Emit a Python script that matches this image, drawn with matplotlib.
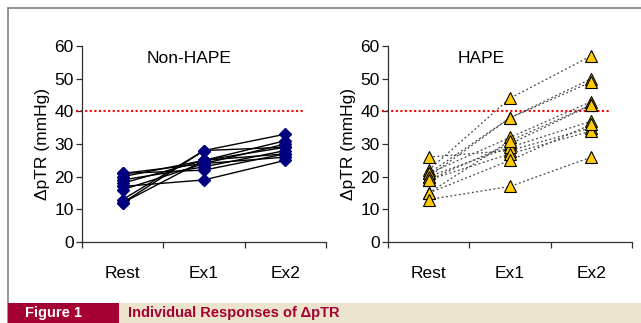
import numpy as np
import matplotlib
matplotlib.use("Agg")
import matplotlib.pyplot as plt
from matplotlib.patches import Rectangle

plt.rcParams["font.family"] = ["Liberation Sans", "DejaVu Sans"]

stages = ["Rest", "Ex1", "Ex2"]

# non-HAPE subjects: rest, ex1, ex2
non_rest = [21, 21, 20, 19, 18, 17, 16, 13, 12, 12]
non_ex1 = [24, 22, 25, 23, 25, 19, 24, 28, 28, 25]
non_ex2 = [30, 27, 29, 28, 31, 25, 26, 33, 29, 27]

# HAPE subjects
hape_rest = [26, 22, 21, 20, 21, 19, 20, 19, 15, 15, 13]
hape_ex1 = [28, 44, 38, 38, 32, 30, 29, 27, 31, 25, 17]
hape_ex2 = [35, 57, 50, 49, 43, 42, 37, 34, 42, 36, 26]

threshold = 40

W, H = 641, 323
FS = 12.5
fig = plt.figure(figsize=(W / 100, H / 100), dpi=100)


def px_box(x0, y0, x1, y1):
    return [x0 / W, 1 - y1 / H, (x1 - x0) / W, (y1 - y0) / H]


def style_axes(ax, title, tx):
    ax.set_xlim(0.5, 3.5)
    ax.set_ylim(0, 60)
    ax.set_yticks(range(0, 61, 10))
    ax.set_xticks([0.5, 1.5, 2.5, 3.5])
    ax.set_xticklabels([])
    for s in ["top", "right"]:
        ax.spines[s].set_visible(False)
    for s in ["left", "bottom"]:
        ax.spines[s].set_color("#303030")
        ax.spines[s].set_linewidth(0.9)
    ax.tick_params(direction="out", length=4, width=0.9, color="#303030", labelsize=FS, pad=2)
    ax.set_ylabel("\u0394pTR (mmHg)", fontsize=FS, labelpad=3)
    ax.text(tx, 0.935, title, transform=ax.transAxes, ha="center", va="center", fontsize=FS)
    ax.axhline(threshold, xmin=-0.025, xmax=0.91, color="red", lw=1.5,
               linestyle=(0, (1, 1.2)), clip_on=False)
    return np.arange(1, 4)


ax1 = fig.add_axes(px_box(82, 46, 326, 242))
x = style_axes(ax1, "Non-HAPE", 0.44)
for a, b, c in zip(non_rest, non_ex1, non_ex2):
    ax1.plot(x, [a, b, c], color="black", lw=1.0, marker="D", markersize=6,
             markerfacecolor="#000080", markeredgecolor="#000080", zorder=3)

ax2 = fig.add_axes(px_box(388, 46, 632, 242))
x = style_axes(ax2, "HAPE", 0.38)
for a, b, c in zip(hape_rest, hape_ex1, hape_ex2):
    ax2.plot(x, [a, b, c], color="#444444", lw=0.9, linestyle=(0, (1.5, 2.0)), zorder=2)
    ax2.plot(x, [a, b, c], linestyle="none", marker="^", markersize=8.5,
             markerfacecolor="#FFCC00", markeredgecolor="black", markeredgewidth=0.8, zorder=3)

# category labels sit well below the axis
for ax in (ax1, ax2):
    for xi, s in zip(x, stages):
        ax.annotate(s, xy=(xi, 0), xycoords="data", xytext=(0, -23), textcoords="offset points",
                    ha="center", va="center", fontsize=FS, annotation_clip=False)

# outer frame
fig.patches.append(Rectangle((8 / W, 0), 1, 1 - 8 / H, transform=fig.transFigure,
                             fill=False, edgecolor="#808080", lw=1.2))

# caption band at the bottom
fig.patches.append(Rectangle((8 / W, 0), 1, 20 / H, transform=fig.transFigure,
                             facecolor="#ebe3cb", edgecolor="none", zorder=5))
fig.patches.append(Rectangle((8 / W, 0), 111 / W, 20 / H, transform=fig.transFigure,
                             facecolor="#a50034", edgecolor="none", zorder=6))
fig.text(25 / W, 10 / H, "Figure 1", color="white", fontsize=10.5, fontweight="bold",
         va="center", ha="left", zorder=7)
fig.text(128 / W, 10 / H, "Individual Responses of \u0394pTR", color="#a50034", fontsize=10.5,
         fontweight="bold", va="center", ha="left", zorder=7)

fig.savefig("out.png", dpi=100)
